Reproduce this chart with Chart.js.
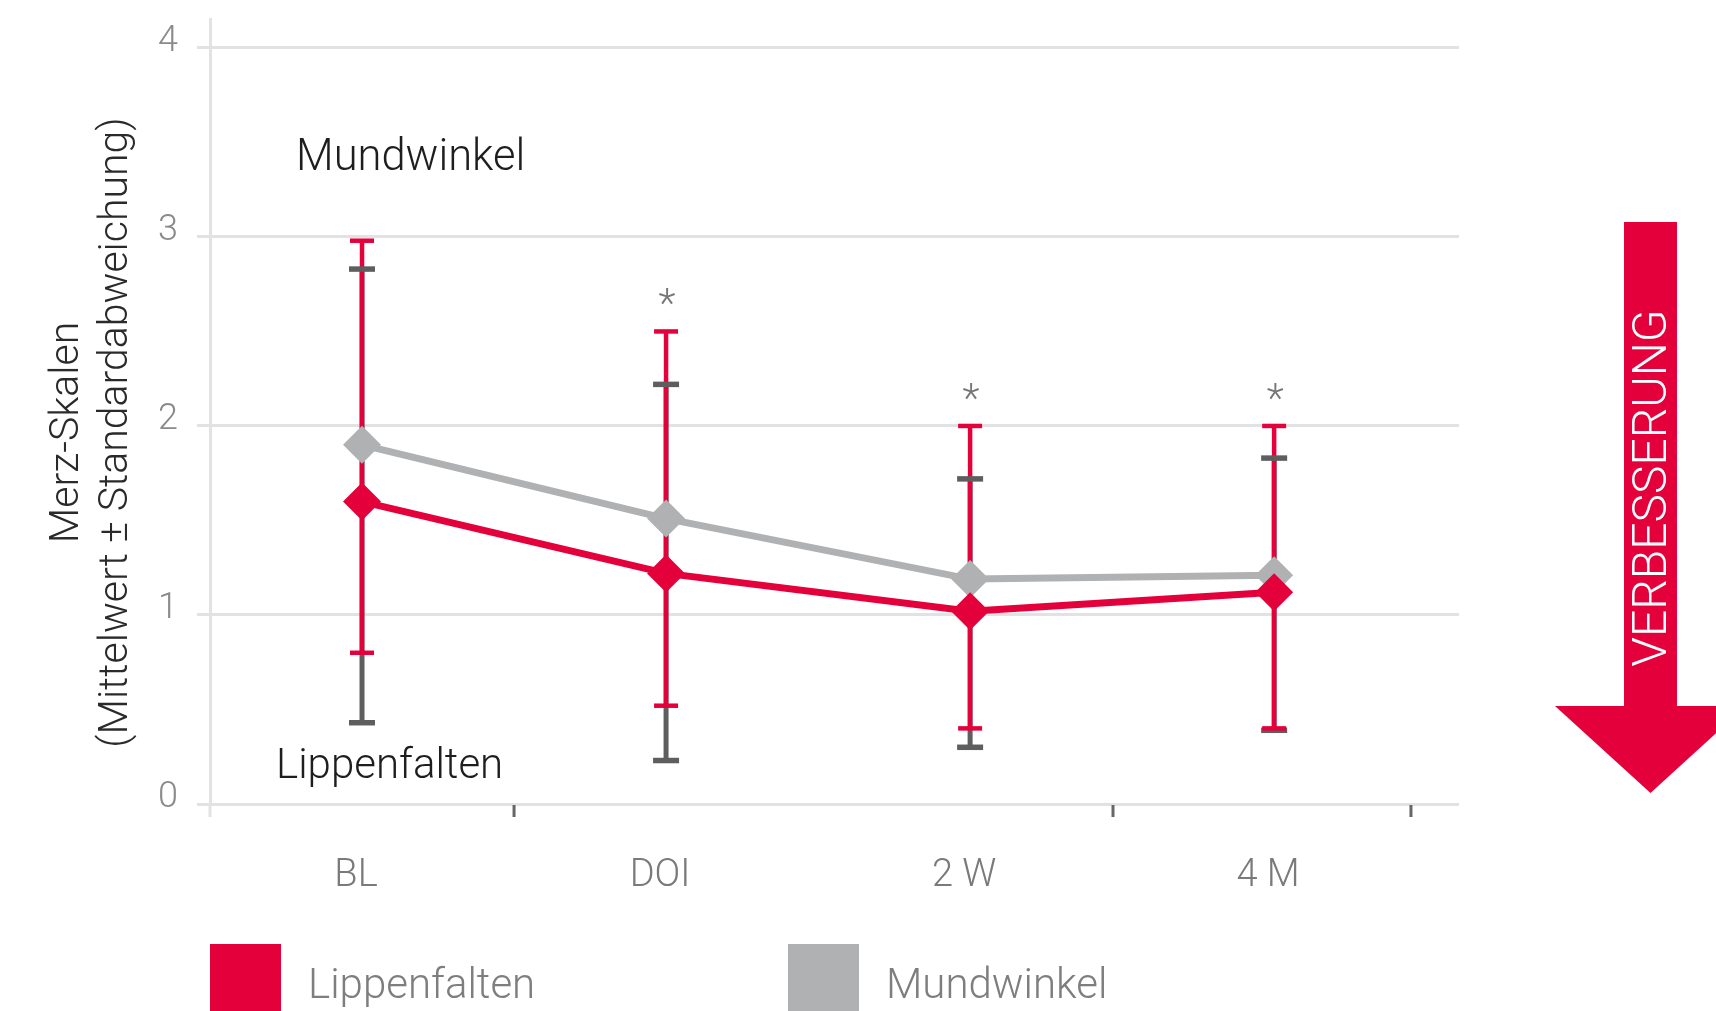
<!DOCTYPE html>
<html>
<head>
<meta charset="utf-8">
<script src="https://cdn.jsdelivr.net/npm/chart.js@4.4.1/dist/chart.umd.min.js"></script>
<style>
html,body{margin:0;padding:0;background:#fff;}
#wrap{width:1716px;height:1011px;position:relative;}
</style>
</head>
<body>
<div id="wrap"><canvas id="c" width="1716" height="1011"></canvas></div>
<script>
// ---- data ----
const categories = ['BL', 'DOI', '2 W', '4 M'];
const seriesNames = ['Lippenfalten', 'Mundwinkel'];
const lippenMean  = [1.60, 1.22, 1.02, 1.12];
const lippenUpper = [2.98, 2.50, 2.00, 2.00];
const lippenLower = [0.80, 0.52, 0.40, 0.40];
const mundMean    = [1.90, 1.51, 1.19, 1.21];
const mundUpper   = [2.83, 2.22, 1.72, 1.83];
const mundLower   = [0.43, 0.23, 0.30, 0.39];
const significant = [false, true, true, true];
const yTicks = [0, 1, 2, 3, 4];
const yTitle = ['Merz-Skalen', '(Mittelwert \u00B1 Standardabweichung)'];
const arrowText = 'VERBESSERUNG';
const boundaryTicks = [0.5, 2.47, 3.45];

// ---- style ----
const RED = '#E4003A';
const GRAY = '#B0B1B3';
const DARK = '#5E5E5E';
const GRID = '#E2E2E2';
const FONT = 'Roboto, "Helvetica Neue", Arial, sans-serif';

function f(size, weight) { return (weight || 300) + ' ' + size + 'px ' + FONT; }

const errorBars = {
  id: 'errorBars',
  beforeDatasetsDraw(chart) {
    const ctx = chart.ctx;
    const xs = chart.scales.x, ys = chart.scales.y;
    const sets = [
      {lo: mundLower, hi: mundUpper, color: DARK, lw: 5, capLw: 5.5, capW: 26},
      {lo: lippenLower, hi: lippenUpper, color: RED, lw: 4.5, capLw: 4.5, capW: 24}
    ];
    ctx.save();
    sets.forEach(s => {
      ctx.strokeStyle = s.color;
      ctx.lineWidth = s.lw;
      categories.forEach((c, i) => {
        const x = xs.getPixelForValue(i);
        ctx.beginPath();
        ctx.moveTo(x, ys.getPixelForValue(s.lo[i]));
        ctx.lineTo(x, ys.getPixelForValue(s.hi[i]));
        ctx.stroke();
      });
    });
    sets.forEach(s => {
      ctx.strokeStyle = s.color;
      ctx.lineWidth = s.capLw;
      categories.forEach((c, i) => {
        const x = xs.getPixelForValue(i);
        [s.lo[i], s.hi[i]].forEach(v => {
          const y = ys.getPixelForValue(v);
          ctx.beginPath();
          ctx.moveTo(x - s.capW / 2, y);
          ctx.lineTo(x + s.capW / 2, y);
          ctx.stroke();
        });
      });
    });
    ctx.restore();
  }
};

const decorations = {
  id: 'decorations',
  afterDraw(chart) {
    const ctx = chart.ctx;
    const xs = chart.scales.x, ys = chart.scales.y;
    const area = chart.chartArea;
    ctx.save();

    // x-axis tick marks
    ctx.strokeStyle = GRID;
    ctx.lineWidth = 3;
    ctx.beginPath();
    ctx.moveTo(area.left, area.bottom);
    ctx.lineTo(area.left, area.bottom + 13);
    ctx.stroke();
    ctx.strokeStyle = '#666';
    ctx.lineWidth = 3;
    boundaryTicks.forEach(v => {
      const x = xs.getPixelForValue(v);
      ctx.beginPath();
      ctx.moveTo(x, area.bottom + 1);
      ctx.lineTo(x, area.bottom + 13);
      ctx.stroke();
    });

    // significance asterisks
    ctx.fillStyle = '#777';
    ctx.font = f(40);
    ctx.textAlign = 'center';
    ctx.textBaseline = 'alphabetic';
    significant.forEach((s, i) => {
      if (!s) return;
      const top = Math.max(lippenUpper[i], mundUpper[i]);
      ctx.fillText('*', xs.getPixelForValue(i) + 1, ys.getPixelForValue(top) - 14);
    });

    // series annotations
    ctx.fillStyle = '#1E1E1E';
    ctx.font = f(43.5);
    ctx.textAlign = 'left';
    ctx.fillText(seriesNames[1], 296, 170);
    ctx.font = f(42);
    ctx.fillText(seriesNames[0], 276, 778);

    // y-axis title
    ctx.fillStyle = '#2A2A2A';
    ctx.font = f(41);
    ctx.textAlign = 'center';
    const cy = (area.top + area.bottom) / 2 + 21;
    [78, 127].forEach((bx, k) => {
      ctx.save();
      ctx.translate(bx, cy);
      ctx.rotate(-Math.PI / 2);
      ctx.fillText(yTitle[k], 0, 0);
      ctx.restore();
    });

    // arrow
    ctx.fillStyle = RED;
    ctx.fillRect(1624, 222, 53, 485);
    ctx.beginPath();
    ctx.moveTo(1555, 706);
    ctx.lineTo(1746, 706);
    ctx.lineTo(1650.5, 793);
    ctx.closePath();
    ctx.fill();
    ctx.save();
    ctx.translate(1652, 488);
    ctx.rotate(-Math.PI / 2);
    ctx.fillStyle = '#FFFFFF';
    ctx.font = f(48, 300);
    ctx.textAlign = 'center';
    ctx.textBaseline = 'middle';
    ctx.fillText(arrowText, 0, 2);
    ctx.restore();

    // legend
    const legendX = [210, 788];
    chart.data.datasets.forEach((ds, k) => {
      ctx.fillStyle = ds.borderColor;
      ctx.fillRect(legendX[k], 944, 71, 80);
      ctx.fillStyle = '#7E7E7E';
      ctx.font = f(42);
      ctx.textAlign = 'left';
      ctx.textBaseline = 'alphabetic';
      ctx.fillText(ds.label, legendX[k] + 98, 998);
    });

    ctx.restore();
  }
};

const toPts = arr => arr.map((v, i) => ({x: i, y: v}));

new Chart(document.getElementById('c'), {
  type: 'line',
  data: {
    datasets: [
      {
        label: seriesNames[0],
        data: toPts(lippenMean),
        borderColor: RED,
        backgroundColor: RED,
        borderWidth: 7,
        pointStyle: 'rectRot',
        pointRadius: 19,
        pointBorderWidth: 0,
        pointBackgroundColor: RED,
        tension: 0
      },
      {
        label: seriesNames[1],
        data: toPts(mundMean),
        borderColor: GRAY,
        backgroundColor: GRAY,
        borderWidth: 7,
        pointStyle: 'rectRot',
        pointRadius: 19,
        pointBorderWidth: 0,
        pointBackgroundColor: GRAY,
        tension: 0
      }
    ]
  },
  options: {
    responsive: false,
    animation: false,
    devicePixelRatio: 1,
    events: [],
    layout: {padding: {top: 16, right: 257, bottom: 107, left: 0}},
    plugins: {legend: {display: false}, tooltip: {enabled: false}},
    scales: {
      x: {
        type: 'linear',
        min: -0.5,
        max: 3.608,
        afterBuildTicks: s => { s.ticks = categories.map((c, i) => ({value: i})); },
        afterFit: s => { s.height = 100; s.paddingLeft = 0; s.paddingRight = 0; },
        ticks: {
          callback: v => categories[v],
          font: {family: FONT, size: 38, weight: 300},
          color: '#7A7A7A',
          padding: 50,
          labelOffset: -6,
          autoSkip: false,
          maxRotation: 0
        },
        grid: {display: false, drawTicks: false},
        border: {display: false}
      },
      y: {
        type: 'linear',
        min: 0,
        max: 4.153,
        afterBuildTicks: s => { s.ticks = yTicks.map(v => ({value: v})); },
        afterFit: s => { s.width = 210; s.paddingTop = 0; s.paddingBottom = 0; },
        ticks: {
          font: {family: FONT, size: 36, weight: 300},
          color: '#8A8A8A',
          padding: 19,
          labelOffset: -6
        },
        grid: {color: GRID, lineWidth: 3, tickLength: 13, drawTicks: true},
        border: {display: true, color: GRID, width: 3}
      }
    }
  },
  plugins: [errorBars, decorations]
});
</script>
</body>
</html>
